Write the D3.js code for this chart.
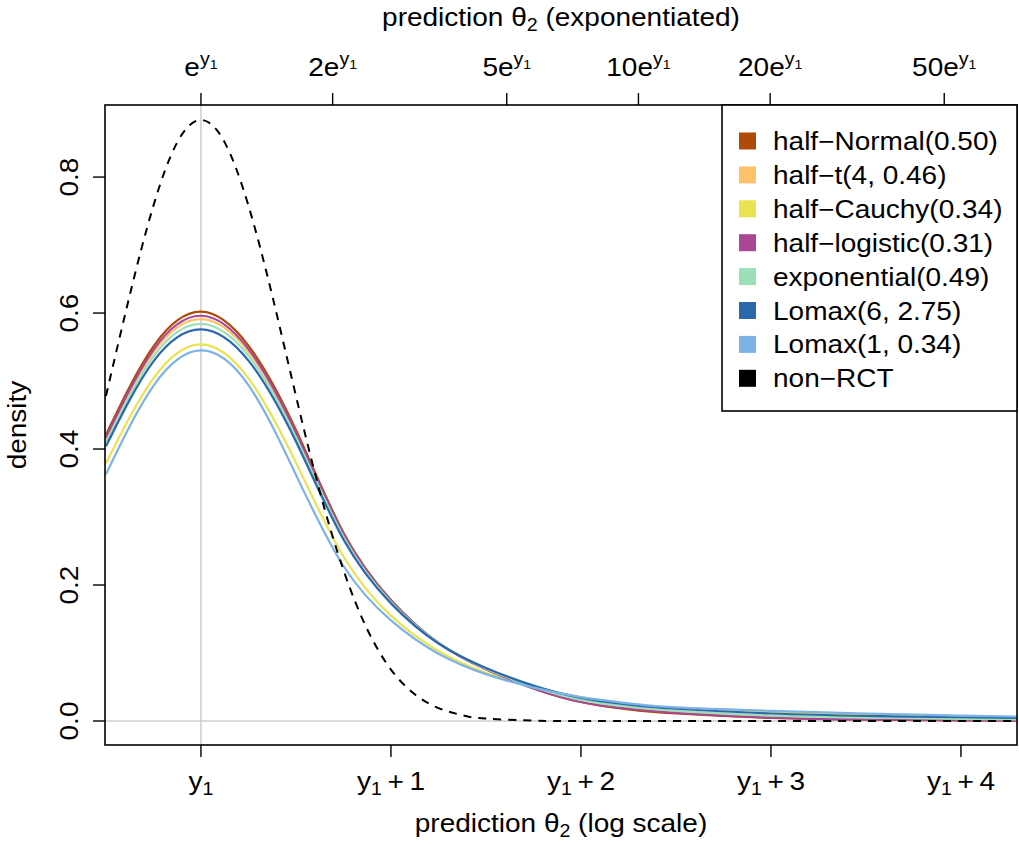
<!DOCTYPE html>
<html>
<head>
<meta charset="utf-8">
<script src="https://cdn.jsdelivr.net/npm/d3@7"></script>
<style>
  body { margin: 0; background: #fff; }
  text { font-family: "Liberation Sans", Arial, Helvetica, sans-serif; fill: #000; }
</style>
</head>
<body>
<svg id="chart" width="1019" height="844"></svg>
<script>
// x positions (offset from y1 on the log scale) where the densities were read
const xGrid = [-0.5, -0.25, 0, 0.25, 0.5, 0.75, 1, 1.25, 1.5, 1.75, 2, 2.25, 2.5, 3, 3.5, 4, 4.3]

const halfNormal   = [0.421, 0.551, 0.602, 0.552, 0.428, 0.277, 0.178, 0.115, 0.076, 0.048, 0.028, 0.017, 0.011, 0.0045, 0.002, 0.001, 0.0006]
const halfT        = [0.414, 0.542, 0.591, 0.543, 0.421, 0.273, 0.176, 0.115, 0.077, 0.049, 0.030, 0.020, 0.014, 0.007, 0.004, 0.0025, 0.002]
const halfCauchy   = [0.379, 0.504, 0.554, 0.504, 0.380, 0.242, 0.155, 0.103, 0.071, 0.050, 0.035, 0.025, 0.019, 0.013, 0.009, 0.0065, 0.0055]
const halfLogistic = [0.417, 0.546, 0.596, 0.547, 0.424, 0.275, 0.177, 0.115, 0.076, 0.048, 0.028, 0.018, 0.012, 0.005, 0.0022, 0.0011, 0.0007]
const exponential  = [0.410, 0.536, 0.584, 0.537, 0.417, 0.271, 0.175, 0.115, 0.077, 0.050, 0.031, 0.021, 0.015, 0.008, 0.005, 0.003, 0.0025]
const lomax6       = [0.404, 0.529, 0.576, 0.530, 0.411, 0.267, 0.173, 0.114, 0.078, 0.052, 0.034, 0.024, 0.018, 0.011, 0.0075, 0.0055, 0.0045]
const lomax1       = [0.363, 0.493, 0.545, 0.494, 0.362, 0.228, 0.148, 0.099, 0.069, 0.049, 0.035, 0.026, 0.020, 0.015, 0.011, 0.008, 0.0066]

// the non-RCT density is narrower, so it was read on a finer grid
const xDense = [-0.5, -0.375, -0.25, -0.125, 0, 0.125, 0.25, 0.375, 0.5, 0.625, 0.75, 0.875, 1, 1.125, 1.25, 1.375, 1.5, 1.75, 2, 3, 4.3]
const nonRCT = [0.478, 0.626, 0.758, 0.851, 0.884, 0.851, 0.758, 0.626, 0.478, 0.338, 0.222, 0.135, 0.0757, 0.0394, 0.019, 0.0085, 0.0035, 0.0005, 0.00005, 0, 0]

const seriesNames = ['half−Normal(0.50)', 'half−t(4, 0.46)', 'half−Cauchy(0.34)', 'half−logistic(0.31)',
  'exponential(0.49)', 'Lomax(6, 2.75)', 'Lomax(1, 0.34)']
const seriesValues = [halfNormal, halfT, halfCauchy, halfLogistic, exponential, lomax6, lomax1]
const seriesColors = ['#b04a08', '#fdc26c', '#ece24f', '#a94795', '#9cdfb8', '#2c69ac', '#7db2e4']

const bottomTicks = [0, 1, 2, 3, 4]
const topMultipliers = [1, 2, 5, 10, 20, 50]
const yTicks = [0, 0.2, 0.4, 0.6, 0.8]

const plot = { left: 105, right: 1017, top: 105, bottom: 745 }
const fontSize = 25
const stretch = 'scale(1.12,1)' // the reference font runs wider than Liberation Sans

const svg = d3.select('#chart')

const x = d3.scaleLinear().domain([-0.505, 4.295]).range([plot.left, plot.right])
const y = d3.scaleLinear().domain([-0.0353, 0.906]).range([plot.bottom, plot.top])

const clip = svg.append('clipPath').attr('id', 'clip')
clip.append('rect')
  .attr('x', plot.left).attr('y', plot.top)
  .attr('width', plot.right - plot.left).attr('height', plot.bottom - plot.top)

const body = svg.append('g').attr('clip-path', 'url(#clip)')

// reference lines at y1 and density 0
body.append('line')
  .attr('x1', x(0)).attr('x2', x(0)).attr('y1', plot.top).attr('y2', plot.bottom)
  .attr('stroke', '#cfcfcf').attr('stroke-width', 1.6)
body.append('line')
  .attr('x1', plot.left).attr('x2', plot.right).attr('y1', y(0)).attr('y2', y(0))
  .attr('stroke', '#cfcfcf').attr('stroke-width', 1.6)

const line = d3.line().curve(d3.curveNatural)

seriesValues.forEach((vals, i) => {
  body.append('path')
    .attr('d', line(vals.map((v, j) => [x(xGrid[j]), y(v)])))
    .attr('fill', 'none')
    .attr('stroke', seriesColors[i])
    .attr('stroke-width', 2.2)
})

body.append('path')
  .attr('d', line(nonRCT.map((v, j) => [x(xDense[j]), y(v)])))
  .attr('fill', 'none')
  .attr('stroke', '#000')
  .attr('stroke-width', 2)
  .attr('stroke-dasharray', '8,7')

// plot box
svg.append('rect')
  .attr('x', plot.left).attr('y', plot.top)
  .attr('width', plot.right - plot.left).attr('height', plot.bottom - plot.top)
  .attr('fill', 'none').attr('stroke', '#000').attr('stroke-width', 1.6)

// bottom axis
const bottomAxis = svg.append('g')
bottomAxis.selectAll('line').data(bottomTicks).join('line')
  .attr('x1', d => x(d)).attr('x2', d => x(d))
  .attr('y1', plot.bottom).attr('y2', plot.bottom + 12)
  .attr('stroke', '#000').attr('stroke-width', 1.4)
const bl = bottomAxis.selectAll('text').data(bottomTicks).join('text')
  .attr('transform', d => `translate(${x(d)},790) ${stretch}`)
  .attr('text-anchor', 'middle')
  .attr('font-size', fontSize)
bl.append('tspan').text('y')
bl.append('tspan').attr('font-size', fontSize * 0.7).attr('dy', 5).text('1')
bl.append('tspan').attr('dy', -5).text(d => d === 0 ? '' : '\u2009+\u2009' + d)

// top axis
const topAxis = svg.append('g')
topAxis.selectAll('line').data(topMultipliers).join('line')
  .attr('x1', d => x(Math.log(d))).attr('x2', d => x(Math.log(d)))
  .attr('y1', plot.top).attr('y2', plot.top - 12)
  .attr('stroke', '#000').attr('stroke-width', 1.4)
const tl = topAxis.selectAll('text').data(topMultipliers).join('text')
  .attr('transform', d => `translate(${x(Math.log(d))},76) ${stretch}`)
  .attr('text-anchor', 'middle')
  .attr('font-size', fontSize)
tl.append('tspan').text(d => (d === 1 ? '' : d) + 'e')
tl.append('tspan').attr('font-size', fontSize * 0.7).attr('dy', -11).text('y')
tl.append('tspan').attr('font-size', fontSize * 0.5).attr('dy', 4).text('1')

// left axis
const leftAxis = svg.append('g')
leftAxis.selectAll('line').data(yTicks).join('line')
  .attr('x1', plot.left).attr('x2', plot.left - 12)
  .attr('y1', d => y(d)).attr('y2', d => y(d))
  .attr('stroke', '#000').attr('stroke-width', 1.4)
leftAxis.selectAll('text').data(yTicks).join('text')
  .attr('transform', d => `translate(78,${y(d)}) rotate(-90) ${stretch}`)
  .attr('text-anchor', 'middle')
  .attr('font-size', fontSize)
  .text(d => d.toFixed(1))

// axis titles
const midX = (plot.left + plot.right) / 2
const t1 = svg.append('text').attr('transform', `translate(${midX},26) ${stretch}`)
  .attr('text-anchor', 'middle').attr('font-size', fontSize)
t1.append('tspan').text('prediction θ')
t1.append('tspan').attr('font-size', fontSize * 0.7).attr('dy', 5).text('2')
t1.append('tspan').attr('dy', -5).text(' (exponentiated)')

const t2 = svg.append('text').attr('transform', `translate(${midX},832) ${stretch}`)
  .attr('text-anchor', 'middle').attr('font-size', fontSize)
t2.append('tspan').text('prediction θ')
t2.append('tspan').attr('font-size', fontSize * 0.7).attr('dy', 5).text('2')
t2.append('tspan').attr('dy', -5).text(' (log scale)')

svg.append('text')
  .attr('transform', `translate(26,${(plot.top + plot.bottom) / 2}) rotate(-90) ${stretch}`)
  .attr('text-anchor', 'middle').attr('font-size', fontSize)
  .text('density')

// legend
const legendNames = seriesNames.concat(['non−RCT'])
const legendColors = seriesColors.concat(['#000'])
const legend = svg.append('g')
legend.append('rect')
  .attr('x', 722).attr('y', plot.top)
  .attr('width', plot.right - 722).attr('height', 411 - plot.top)
  .attr('fill', '#fff').attr('stroke', '#000').attr('stroke-width', 1.6)
const rows = legend.selectAll('g.row').data(legendNames).join('g')
  .attr('class', 'row')
  .attr('transform', (d, i) => `translate(0,${141 + i * 33.9})`)
rows.append('rect')
  .attr('x', 739).attr('y', -8.5).attr('width', 17).attr('height', 17)
  .attr('fill', (d, i) => legendColors[i])
rows.append('text')
  .attr('transform', `translate(773,9) ${stretch}`)
  .attr('font-size', fontSize)
  .text(d => d)
</script>
</body>
</html>
